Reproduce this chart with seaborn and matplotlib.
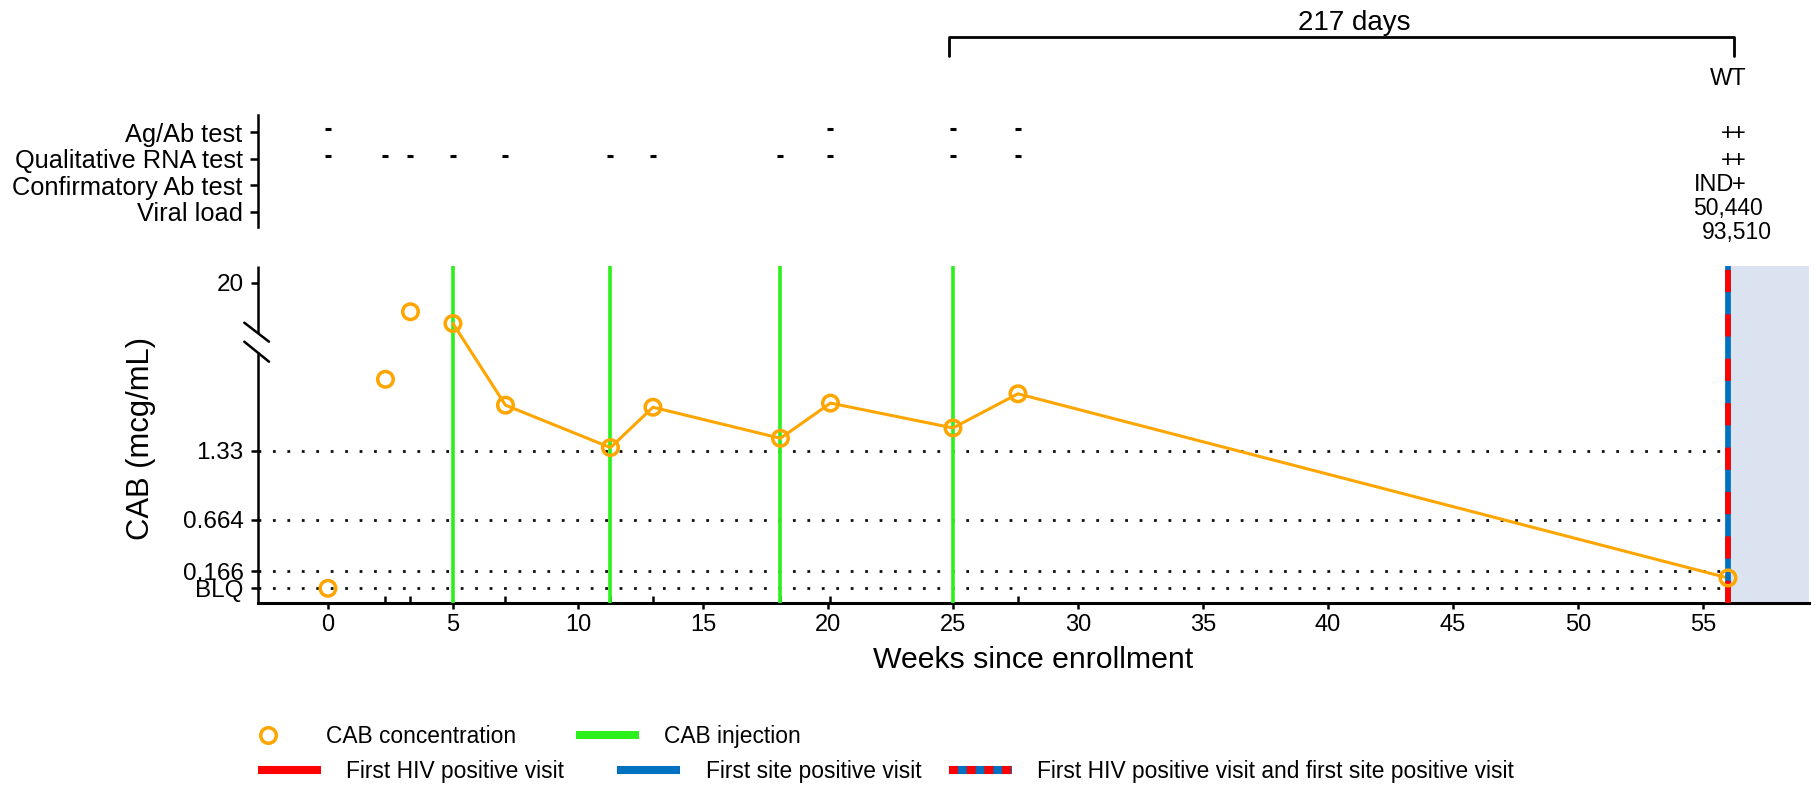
import numpy as np
import pandas as pd
import matplotlib
matplotlib.use("Agg")
import matplotlib.pyplot as plt
from matplotlib.lines import Line2D
from matplotlib.ticker import FixedLocator
from matplotlib.transforms import offset_copy
import seaborn as sns

# ---------------- data ----------------
visit_weeks = [0.0, 2.3, 3.3, 5.0, 7.1, 11.3, 13.0, 18.1, 20.1, 25.0, 27.6, 56.0]
cab_conc = [0.0, 2.02, 11.4, 7.9, 1.77, 1.36, 1.75, 1.45, 1.79, 1.55, 1.88, 0.10]
injection_weeks = [5.0, 11.3, 18.1, 25.0]
hiv_positive_week = 56.0
threshold_values = [0.0, 0.166, 0.664, 1.33]
ytick_values = [0.0, 0.166, 0.664, 1.33, 20.0]
ytick_labels = ["BLQ", "0.166", "0.664", "1.33", "20"]
xtick_values = list(range(0, 56, 5))

test_rows = ["Ag/Ab test", "Qualitative RNA test", "Confirmatory Ab test", "Viral load"]
agab_negative_weeks = [0.0, 20.1, 25.0, 27.6]
rna_negative_weeks = [0.0, 2.3, 3.3, 5.0, 7.1, 11.3, 13.0, 18.1, 20.1, 25.0, 27.6]
positive_weeks = [56.0, 56.45]
agab_results = ["+", "+"]
rna_results = ["+", "+"]
confirm_results = ["IND", "+"]
viral_loads = ["50,440", "93,510"]
variant_label = "WT"
interval_weeks = [24.85, 56.25]
interval_label = "217 days"

legend_labels_row1 = ["CAB concentration", "CAB injection"]
legend_labels_row2 = ["First HIV positive visit", "First site positive visit",
                      "First HIV positive visit and first site positive visit"]

# ---------------- style ----------------
ORANGE = "#ffa500"
GREEN = "#2cf01c"
RED = "#ff0000"
BLUE = "#0070c0"
SHADE = "#dae3ef"

sns.set_theme(style="ticks", rc={"axes.edgecolor": "black", "xtick.color": "black",
                                 "ytick.color": "black", "text.color": "black",
                                 "axes.labelcolor": "black"})
plt.rcParams["font.family"] = ["Liberation Sans", "DejaVu Sans"]

W_PX, H_PX = 1816, 786
fig = plt.figure(figsize=(W_PX / 100, H_PX / 100), dpi=100)

# axes placement (pixels)
ax_left, ax_right = 257.7, 1809.0
ax_top_px, ax_bot_px = 266.0, 603.3
L = ax_left / W_PX
Wd = (ax_right - ax_left) / W_PX
ax = fig.add_axes([L, 1 - ax_bot_px / H_PX, Wd, (ax_bot_px - ax_top_px) / H_PX])
ax_t = fig.add_axes([L, 1 - 250 / H_PX, Wd, 250 / H_PX])
ax.patch.set_alpha(0)
ax_t.patch.set_alpha(0)

XLIM = (-2.81, 59.24)

# broken y scale: linear below break, compressed above
BREAK = 2.38
K = 0.0325


def fwd(v):
    v = np.asarray(v, dtype=float)
    return np.where(v <= BREAK, v, BREAK + (v - BREAK) * K)


def inv(p):
    p = np.asarray(p, dtype=float)
    return np.where(p <= BREAK, p, BREAK + (p - BREAK) / K)


ax.set_yscale("function", functions=(fwd, inv))

df = pd.DataFrame({"week": visit_weeks, "cab": cab_conc})
connected = df[df["week"] >= injection_weeks[0]]

# background shade after positivity
ax.axvspan(hiv_positive_week, XLIM[1], color=SHADE, lw=0, zorder=0)

# threshold dotted lines
ax.hlines(threshold_values, XLIM[0], hiv_positive_week, colors="#111111",
          linestyles=(0, (1, 4.2)), lw=2.0, zorder=2)

# injections
for w in injection_weeks:
    ax.axvline(w, color=GREEN, lw=2.6, zorder=3)

# first HIV positive / site positive visit
ax.axvline(hiv_positive_week, color=BLUE, lw=4.1, zorder=4.5)
ax.axvline(hiv_positive_week, color=RED, lw=4.1, dashes=(3.9, 3.9), zorder=4.6)

sns.lineplot(data=connected, x="week", y="cab", ax=ax, color=ORANGE, lw=2.2,
             zorder=4, legend=False)
sns.scatterplot(data=df, x="week", y="cab", ax=ax, s=125, marker="o",
                facecolor="none", edgecolor=ORANGE, linewidth=2.5, zorder=5,
                legend=False)

ax.set_xlim(*XLIM)
ax.set_ylim(-0.145, 25.0)
ax.set_xticks(xtick_values)
ax.xaxis.set_minor_locator(FixedLocator(visit_weeks))
ax.set_yticks(ytick_values)
ax.set_yticklabels(ytick_labels)
ax.tick_params(axis="x", which="major", direction="out", length=4.5, width=1.8,
               labelsize=17, pad=3)
ax.tick_params(axis="x", which="minor", direction="in", length=5, width=1.8)
ax.tick_params(axis="y", which="major", direction="out", length=5, width=1.8,
               labelsize=17.5, pad=5)
ax.tick_params(axis="y", which="minor", left=False)

for s in ["top", "right", "left"]:
    ax.spines[s].set_visible(False)
ax.spines["bottom"].set_linewidth(2.2)

# manual left spine with break marks (axes fraction)
lw_sp = 1.8
ax.plot([0, 0], [0, 0.745], transform=ax.transAxes, color="black", lw=lw_sp,
        clip_on=False, solid_capstyle="butt", zorder=6)
ax.plot([0, 0], [0.801, 1.0], transform=ax.transAxes, color="black", lw=lw_sp,
        clip_on=False, solid_capstyle="butt", zorder=6)
ax.plot([-0.00864, 0.00728], [0.8319, 0.7756], transform=ax.transAxes,
        color="black", lw=lw_sp, clip_on=False, zorder=6)
ax.plot([-0.00864, 0.00728], [0.7756, 0.7163], transform=ax.transAxes,
        color="black", lw=lw_sp, clip_on=False, zorder=6)

ax.set_xlabel("Weeks since enrollment", fontsize=21.8)
ax.xaxis.set_label_coords(0.5, -0.168)
ax.xaxis.label.set_va("center")
ax.set_ylabel("CAB (mcg/mL)", fontsize=22.3)
ax.yaxis.set_label_coords(-0.0752, 0.49)
ax.yaxis.label.set_va("center")

# ---------------- upper test panel ----------------
ROW0_PX, ROW_STEP = 132.3, 26.5


def px_to_row(p):
    return (p - ROW0_PX) / ROW_STEP


row_idx = {name: i for i, name in enumerate(test_rows)}
ax_t.set_xlim(*XLIM)
ax_t.set_ylim(px_to_row(250), px_to_row(0))
ax_t.set_yticks(range(len(test_rows)))
ax_t.set_yticklabels(test_rows)
ax_t.tick_params(axis="y", length=5.8, width=1.8, labelsize=18.3, pad=5)
ax_t.tick_params(axis="x", bottom=False, labelbottom=False)
for s in ["top", "right", "bottom"]:
    ax_t.spines[s].set_visible(False)
ax_t.spines["left"].set_bounds(px_to_row(115), px_to_row(226.7))
ax_t.spines["left"].set_linewidth(1.8)

dash_tr = offset_copy(ax_t.transData, fig=fig, x=0, y=2.2, units="points")
ax_t.plot(agab_negative_weeks, [row_idx["Ag/Ab test"]] * len(agab_negative_weeks),
          ls="none", marker="_", ms=5, mew=2.2, color="black", transform=dash_tr)
ax_t.plot(rna_negative_weeks, [row_idx["Qualitative RNA test"]] * len(rna_negative_weeks),
          ls="none", marker="_", ms=5, mew=2.2, color="black", transform=dash_tr)


def put(lab, w, row, dx_pt, dy_pt, fs):
    ax_t.annotate(lab, (w, row), xytext=(dx_pt, dy_pt), textcoords="offset points",
                  ha="center", va="baseline", fontsize=fs)


for w, lab in zip(positive_weeks, agab_results):
    put(lab, w, row_idx["Ag/Ab test"], 0, -5.5, 17)
for w, lab in zip(positive_weeks, rna_results):
    put(lab, w, row_idx["Qualitative RNA test"], 0, -6.1, 17)
for w, lab, dx in zip(positive_weeks, confirm_results, [-9.8, 0]):
    put(lab, w, row_idx["Confirmatory Ab test"], dx, -4.3, 17)
for w, lab, (dx, dy) in zip(positive_weeks, viral_loads, [(0, -2.4), (-1.5, -19.9)]):
    put(lab, w, row_idx["Viral load"], dx, dy, 16.5)

ax_t.text(hiv_positive_week, px_to_row(85), variant_label, ha="center",
          va="baseline", fontsize=17)

# bracket
bx0, bx1 = interval_weeks
yb_low, yb_top = px_to_row(56), px_to_row(37.3)
ax_t.plot([bx0, bx0, bx1, bx1], [yb_low, yb_top, yb_top, yb_low], color="black",
          lw=2, clip_on=False, solid_joinstyle="round")
ax_t.annotate(interval_label, ((bx0 + bx1) / 2, px_to_row(30)), xytext=(9, 0),
              textcoords="offset points", ha="center", va="baseline", fontsize=20)

# ---------------- legend ----------------
LEG_FS = 16.4
em_px = LEG_FS * 100 / 72
hl = 63 / em_px


def place_legend(handle, label, x_px, y_px, pad_px):
    lg = fig.legend([handle], [label], loc="center left",
                    bbox_to_anchor=(x_px / W_PX, 1 - y_px / H_PX),
                    bbox_transform=fig.transFigure, frameon=False,
                    fontsize=LEG_FS, borderpad=0, borderaxespad=0,
                    handlelength=hl, handletextpad=pad_px / em_px)
    return lg


h_circle = Line2D([], [], ls="none", marker="o", ms=11.2, mfc="none", mec=ORANGE, mew=2.5)
h_green = Line2D([], [], color=GREEN, lw=5.8, solid_capstyle="butt")
h_red = Line2D([], [], color=RED, lw=5.8, solid_capstyle="butt")
h_blue = Line2D([], [], color=BLUE, lw=5.8, solid_capstyle="butt")
h_stripe_b = Line2D([], [], color=BLUE, lw=5.8, solid_capstyle="butt")
h_stripe_r = Line2D([], [], color=RED, lw=5.8, dashes=(1.1, 1.1), dash_capstyle="butt")

place_legend(h_circle, legend_labels_row1[0], 236, 736.7, 27)
place_legend(h_green, legend_labels_row1[1], 576, 736.7, 25)
place_legend(h_red, legend_labels_row2[0], 258, 771.7, 25)
place_legend(h_blue, legend_labels_row2[1], 617, 771.7, 26)
place_legend((h_stripe_b, h_stripe_r), legend_labels_row2[2], 949, 771.7, 25)

fig.savefig("out.png", dpi=100)
